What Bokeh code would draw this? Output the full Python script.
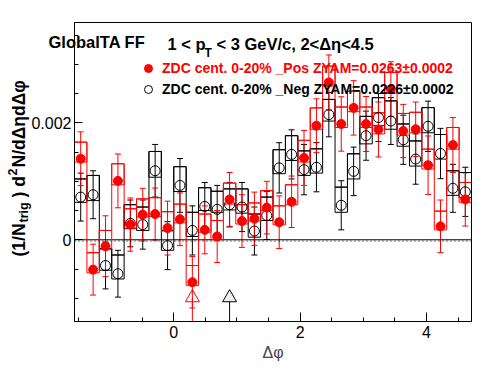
import numpy as np
from bokeh.plotting import figure
from bokeh.models import (ColumnDataSource, Range1d, FixedTicker, CustomJSTickFormatter,
                          Whisker, TeeHead, Label, Legend, LegendItem, BoxAnnotation)
from bokeh.embed import file_html
from bokeh.resources import INLINE

# ---------------- data (y values in units of 1e-3) ----------------
n_bins = 32
phi_min, phi_max = -np.pi / 2, 3 * np.pi / 2

pos_label = "ZDC cent. 0-20% _Pos ZYAM=0.0263\u00b10.0002"
neg_label = "ZDC cent. 0-20% _Neg ZYAM=0.0226\u00b10.0002"

pos_y = [1.385, -0.51, -0.11, 1.007, 0.26, 0.43, 0.44, 0.20, 0.35, -0.725, 0.17, 0.056,
         0.69, 0.32, 0.36, 0.55, 0.30, 0.65, 1.40, 1.95, 2.69, 1.98, 2.255, 1.98,
         1.885, 2.575, 1.86, 1.89, 1.275, 0.23, 1.62, 0.69]
pos_err = [0.46, 0.435, 0.52, 0.46, 0.455, 0.45, 0.445, 0.46, 0.45, 0.44, 0.41, 0.445,
           0.46, 0.45, 0.455, 0.45, 0.45, 0.44, 0.47, 0.46, 0.47, 0.465, 0.465, 0.47,
           0.47, 0.47, 0.455, 0.465, 0.50, 0.45, 0.47, 0.455]
pos_box_lo = [1.33, -0.566, -0.17, 0.94, 0.20, 0.39, 0.40, 0.15, 0.29, -0.78, 0.13, 0.00,
              0.61, 0.27, 0.32, 0.50, 0.255, 0.60, 1.33, 1.89, 2.63, 1.92, 2.19, 1.92,
              1.81, 2.51, 1.79, 1.83, 1.21, 0.17, 1.55, 0.64]
pos_box_hi = [1.67, -0.22, 0.16, 1.30, 0.53, 0.70, 0.72, 0.48, 0.61, -0.44, 0.44, 0.33,
              0.97, 0.60, 0.63, 0.84, 0.58, 0.94, 1.70, 2.255, 2.97, 2.27, 2.54, 2.27,
              2.17, 2.86, 2.16, 2.18, 1.55, 0.49, 1.92, 0.98]

neg_y = [0.73, 0.77, -0.44, -0.58, 0.28, 0.26, 1.18, -0.10, 0.93, 0.16, 0.57, 0.52,
         0.60, 0.56, 0.15, 0.415, 1.23, 1.46, 1.20, 1.24, 2.14, 0.59, 1.17, 1.78,
         2.09, 2.03, 1.71, 1.38, 1.94, 1.475, 0.88, 0.82]
neg_err = [0.41, 0.41, 0.40, 0.40, 0.40, 0.42, 0.45, 0.41, 0.46, 0.42, 0.41, 0.41,
           0.38, 0.42, 0.41, 0.41, 0.43, 0.42, 0.43, 0.42, 0.38, 0.42, 0.415, 0.42,
           0.41, 0.40, 0.42, 0.43, 0.43, 0.43, 0.41, 0.42]
neg_box_lo = [0.64, 0.67, -0.52, -0.67, 0.19, 0.16, 1.07, -0.18, 0.825, 0.056, 0.50, 0.47,
              0.51, 0.455, 0.045, 0.33, 1.13, 1.355, 1.10, 1.14, 2.03, 0.47, 1.04, 1.64,
              1.95, 1.89, 1.60, 1.26, 1.83, 1.38, 0.76, 0.72]
neg_box_hi = [1.04, 1.10, -0.15, -0.26, 0.60, 0.56, 1.51, 0.16, 1.25, 0.47, 0.89, 0.83,
              0.87, 0.87, 0.44, 0.73, 1.54, 1.78, 1.52, 1.555, 2.40, 0.90, 1.47, 2.11,
              2.43, 2.375, 1.98, 1.69, 2.26, 1.80, 1.18, 1.15]

# ZYAM minimum markers (bin index, value)
zyam_bin = [9, 12]
zyam_y = [-0.99, -0.99]
zyam_line = ["red", "black"]
zyam_fill = [None, "#eeeeee"]

# axis ticks
x_major = [0, 2, 4]
x_minor = [-1.5, -1.0, -0.5, 0.5, 1.0, 1.5, 2.5, 3.0, 3.5, 4.5]
y_major = [0.0, 0.002]
y_minor = [-0.001, -0.0005, 0.0005, 0.001, 0.0015, 0.0025, 0.003, 0.0035]

scale = 1e-3
y_min, y_max = -1.397e-3, 3.715e-3

edges = np.linspace(phi_min, phi_max, n_bins + 1)
centers = 0.5 * (edges[:-1] + edges[1:])


def series_source(y, err, lo, hi):
    y = np.array(y) * scale
    err = np.array(err) * scale
    return ColumnDataSource(dict(
        x=centers, y=y, upper=y + err, lower=y - err,
        left=edges[:-1], right=edges[1:],
        bottom=np.array(lo) * scale, top=np.array(hi) * scale))


def step_xy(hi):
    hi = np.array(hi) * scale
    xs = np.repeat(edges, 2)[1:-1]
    ys = np.repeat(hi, 2)
    return xs, ys


pos_src = series_source(pos_y, pos_err, pos_box_lo, pos_box_hi)
neg_src = series_source(neg_y, neg_err, neg_box_lo, neg_box_hi)

# ---------------- layout (page pixels) ----------------
W, H = 496, 374
FL, FR, FT, FB = 74, 471, 22, 321      # visible plot box edges in page pixels
kx = (phi_max - phi_min) / (FR - FL)    # data units per pixel
ky = (y_max - y_min) / (FB - FT)


def dx(px):
    return phi_min + (px - FL) * kx


def dy(py):
    return y_max - (py - FT) * ky


FONT = "Liberation Sans"
# the Bokeh frame covers the whole canvas so that texts outside the box are not clipped
p = figure(width=W, height=H, output_backend="svg", toolbar_location=None,
           x_range=Range1d(dx(0), dx(W)), y_range=Range1d(dy(H), dy(0)),
           min_border_left=0, min_border_right=0, min_border_top=0, min_border_bottom=0)
p.xgrid.visible = False
p.ygrid.visible = False
p.outline_line_color = None
p.background_fill_color = "white"
p.border_fill_color = "white"

xa = p.xaxis[0]
xa.fixed_location = y_min
xa.bounds = (phi_min, phi_max)
xa.ticker = FixedTicker(ticks=x_major, minor_ticks=x_minor)
xa.major_tick_in, xa.major_tick_out = 9, 0
xa.minor_tick_in, xa.minor_tick_out = 4, 0
xa.major_label_standoff = 4
xa.major_label_text_font = FONT
xa.major_label_text_font_size = "16px"
xa.major_label_text_color = "black"
xa.axis_label = "\u0394\u03c6"
xa.axis_label_text_font = FONT
xa.axis_label_text_font_style = "normal"
xa.axis_label_text_font_size = "16px"
xa.axis_label_standoff = 3
xa.axis_line_color = "black"
xa.major_tick_line_color = "black"
xa.minor_tick_line_color = "black"

ya = p.yaxis[0]
ya.fixed_location = phi_min
ya.bounds = (y_min, y_max)
ya.ticker = FixedTicker(ticks=y_major, minor_ticks=y_minor)
ya.formatter = CustomJSTickFormatter(code="return Math.abs(tick) < 1e-9 ? '0' : tick.toFixed(3);")
ya.major_tick_in, ya.major_tick_out = 8, 0
ya.minor_tick_in, ya.minor_tick_out = 4, 0
ya.major_label_standoff = 3
ya.major_label_text_font = FONT
ya.major_label_text_font_size = "16px"
ya.major_label_text_color = "black"
ya.axis_line_color = "black"
ya.major_tick_line_color = "black"
ya.minor_tick_line_color = "black"

# plot box
p.add_layout(BoxAnnotation(left=phi_min, right=phi_max, bottom=y_min, top=y_max,
                           fill_alpha=0, line_color="black", line_width=1, line_alpha=1))

# zero line (solid) with the dotted ZYAM reference just under it
p.segment(x0=[phi_min], y0=[0], x1=[phi_max], y1=[0], line_color="black", line_width=1)
p.segment(x0=[phi_min], y0=[-1.3 * ky], x1=[phi_max], y1=[-1.3 * ky], line_color="black",
          line_width=1, line_dash="1 3")

# systematic boxes + connecting step outline
for src, hi, col in ((neg_src, neg_box_hi, "black"), (pos_src, pos_box_hi, "red")):
    p.quad(left="left", right="right", top="top", bottom="bottom", source=src,
           fill_alpha=0, line_color=col, line_width=1)
    sx, sy = step_xy(hi)
    p.line(sx, sy, line_color=col, line_width=1)

# ZYAM markers
zx = centers[zyam_bin]
zy = np.array(zyam_y) * scale
zsrc = ColumnDataSource(dict(x=zx, y=zy, y0=np.full(len(zx), y_min), lc=zyam_line,
                             fc=[c if c else "white" for c in zyam_fill],
                             fa=[1.0 if c else 0.0 for c in zyam_fill]))
p.segment(x0="x", y0="y", x1="x", y1="y0", source=zsrc, line_color="lc", line_width=1)
p.scatter(x="x", y="y", source=zsrc, marker="triangle", size=14, line_color="lc",
          fill_color="fc", fill_alpha="fa", line_width=1)

# error bars
for src, col in ((neg_src, "black"), (pos_src, "red")):
    p.add_layout(Whisker(source=src, base="x", upper="upper", lower="lower",
                         line_color=col, line_width=1,
                         upper_head=TeeHead(size=6, line_color=col, line_width=1),
                         lower_head=TeeHead(size=6, line_color=col, line_width=1)))

neg_r = p.scatter(x="x", y="y", source=neg_src, marker="circle", size=10,
                  line_color="black", fill_color="white", fill_alpha=0, line_width=1)
pos_r = p.scatter(x="x", y="y", source=pos_src, marker="circle", size=9,
                  line_color="red", fill_color="red")

# legends (location = bottom-left of legend box, relative to canvas bottom-left)
for label, rend, col, cy in ((pos_label, pos_r, "red", 67.7), (neg_label, neg_r, "black", 89.3)):
    leg = Legend(items=[LegendItem(label=label, renderers=[rend])],
                 location=(138, H - (cy + 10)),
                 border_line_alpha=0, background_fill_alpha=0, padding=0, margin=0,
                 glyph_width=20, glyph_height=20, label_height=20, label_standoff=4,
                 label_text_font=FONT, label_text_font_style="bold",
                 label_text_font_size="14px", label_text_color=col)
    p.add_layout(leg)


def lab(px, py, text, size, style="bold", angle=0.0):
    p.add_layout(Label(x=dx(px), y=dy(py), x_units="data", y_units="data", text=text,
                       text_font=FONT, text_font_style=style, text_font_size=size,
                       text_color="black", text_baseline="alphabetic", text_align="left",
                       angle=angle))


# titles (page pixel positions of baseline start)
lab(48, 41.5, "GlobalTA FF", "16.5px")
lab(167, 43.3, "1 < p", "16.5px")
lab(204, 52.5, "T", "12px")
lab(216, 43.3, "< 3 GeV/c, 2<\u0394\u03b7<4.5", "16.5px")

# y-axis title pieces (rotated, reading upward)
A = np.pi / 2
lab(18.5, 256, "(1/N", "17.5px", angle=A)
lab(23.5, 222, "trig", "12.5px", angle=A)
lab(18.5, 197, ") d", "17.5px", angle=A)
lab(12.0, 175, "2", "12.5px", angle=A)
lab(18.5, 167, "N/d\u0394\u03b7d\u0394\u03c6", "17.5px", angle=A)

open("out.html", "w").write(file_html(p, INLINE))
